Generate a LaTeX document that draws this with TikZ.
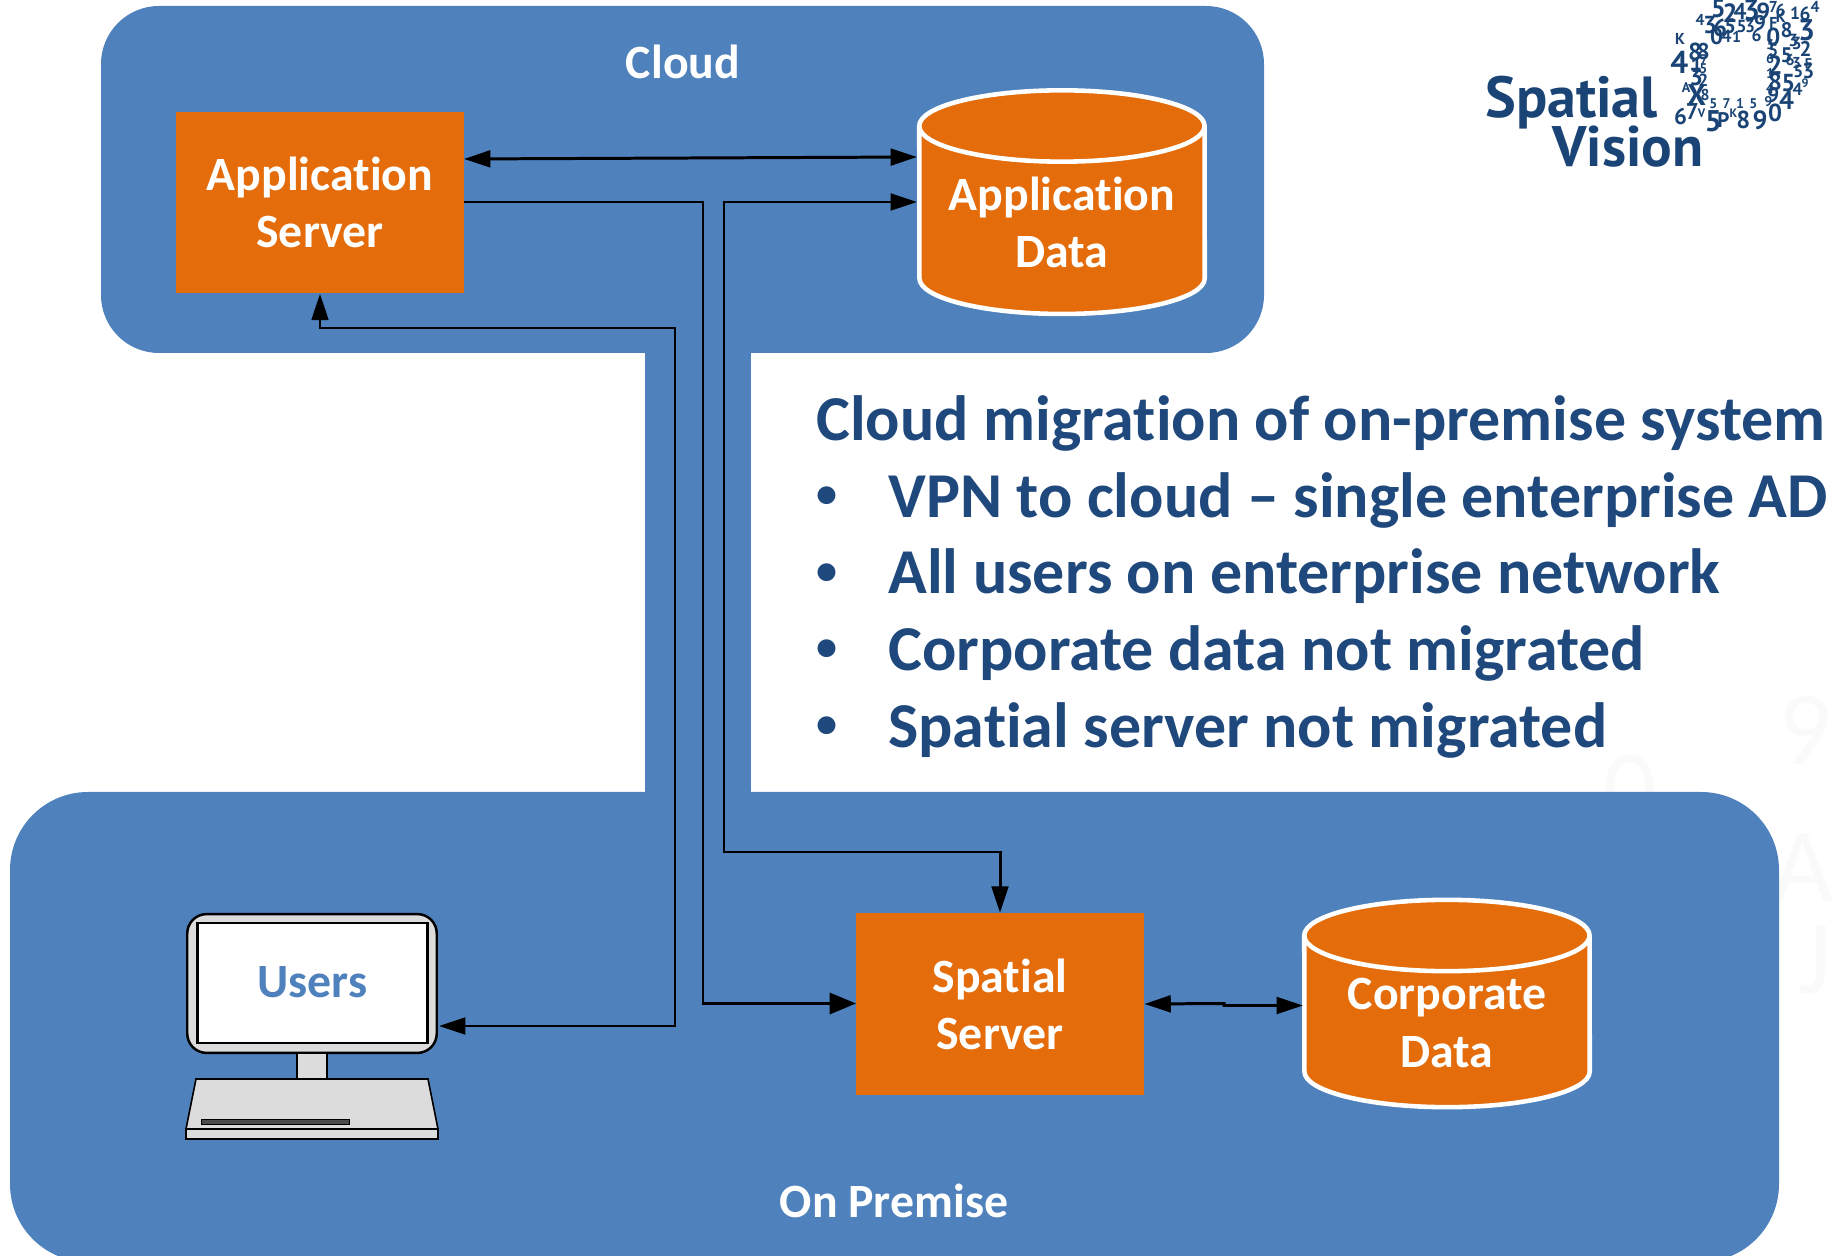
\documentclass[tikz,border=0pt]{standalone}
\usepackage{fontspec}
\setmainfont{Carlito}[Ligatures=NoCommon]
\newfontfamily\logofont{PT Sans}
\usetikzlibrary{arrows.meta}
\definecolor{panelblue}{HTML}{4F81BD}
\definecolor{boxorange}{HTML}{E46C0A}
\definecolor{textblue}{HTML}{1F497D}
\definecolor{logoblue}{HTML}{1A4475}
\definecolor{screengray}{HTML}{DCDCDC}
\newcommand{\bulletmark}{\makebox[41pt][l]{\fontsize{24}{24}\selectfont\raisebox{5.5pt}{•}}}
% drum outline: centre x, upper rim y, lower rim y
\newcommand{\drumbody}[3]{
	\filldraw[drum] (#1-142.75,#2) arc[start angle=180,end angle=0,x radius=81.2pt,y radius=20.3pt] -- (#1+142.75,#3) arc[start angle=0,end angle=-180,x radius=81.2pt,y radius=20.3pt] -- cycle;
	\draw[drum,fill=none] (#1-142.75,#2) arc[start angle=180,end angle=360,x radius=81.2pt,y radius=20.3pt];
}
\tikzset{
	panel/.style={fill=panelblue,draw=none},
	server/.style={fill=boxorange,draw=none,text=white,font=\fontsize{27.2}{32.5}\selectfont\bfseries,align=center,minimum width=164pt,minimum height=103.5pt,inner sep=0pt},
	drum/.style={fill=boxorange,draw=white,line width=2.6pt},
	store/.style={text=white,font=\fontsize{27.2}{32.5}\selectfont\bfseries,align=center,inner sep=0pt},
	caption/.style={text=white,font=\fontsize{27.2}{30}\selectfont\bfseries,inner sep=0pt},
	link/.style={draw=black,line width=1.7pt,-{Triangle[length=15pt,width=9.5pt]}},
	linkboth/.style={link,{Triangle[length=15pt,width=9.5pt]}-{Triangle[length=15pt,width=9.5pt]}},
	part/.style={fill=screengray,draw=black,line width=0.9pt},
	glyph/.style={text=logoblue,inner sep=0pt,font=\logofont},
}
\begin{document}
\begin{tikzpicture}[x=0.02cm,y=-0.02cm]
	\useasboundingbox (0,0) rectangle (1837,1256);
	\clip (0,0) rectangle (1837,1256);

	% faint marks behind the slide
	\begin{scope}[every node/.style={text=black!2,font=\fontsize{60}{60}\selectfont,inner sep=0pt}]
		\node (faintnine) at (1805,730) {9};
		\node (faintzero) at (1630,790) {0};
		\node (fainta) at (1803,868) {A};
		\node (faintj) at (1815,960) {J};
	\end{scope}

	% panels
	\fill[panel,rounded corners=58*0.569pt] (101,6) rectangle (1264,353);
	\fill[panel,rounded corners=78*0.569pt] (10,792) rectangle (1779,1262);
	\fill[panel] (645,340) rectangle (751,800);

	\node[caption] (cloudtitle) at (683,62) {Cloud};
	\node[caption] (premisetitle) at (894,1201) {On Premise};

	% boxes
	\node[server] (appserver) at (320,202.5) {Application\\Server};
	\node[server] (spatialserver) at (1000,1004) {Spatial\\Server};
	\drumbody{1062}{126}{278.3}
	\drumbody{1447}{935.5}{1071.5}
	\node[store] (appdata) at (1062,222) {Application\\Data};
	\node[store] (corpdata) at (1447,1023) {Corporate\\Data};

	% computer
	\node[part,line width=1.4pt,rounded corners=11pt,minimum width=142pt,minimum height=79pt,inner sep=0pt] (monitor) at (312,983.5) {};
	\node[fill=white,draw=black,line width=1.4pt,text=panelblue,font=\fontsize{27.2}{30}\selectfont\bfseries,minimum width=131pt,minimum height=68pt,inner sep=0pt,text depth=1.5pt] (users) at (312.5,983) {Users};
	\draw[part] (297,1053) rectangle (327,1079);
	\draw[part] (196,1079) -- (428,1079) -- (438,1129) -- (186,1129) -- cycle;
	\draw[part] (186,1129) rectangle (438,1139);
	\fill[black!70,draw=black,line width=0.5pt] (201,1119) rectangle (349,1124);

	% connectors
	\coordinate (appleft) at (464,159);
	\coordinate (appright) at (917,157);
	\coordinate (usersport) at (439,1026);
	\coordinate (spatialport) at (856,1003.5);
	\coordinate (corpport) at (1303,1005.5);
	\draw[linkboth] (appleft) -- (appright);
	\draw[link,-{Triangle[length=15pt,width=12pt]}] (464,202) -- (703,202) -- (703,1003.5) -- (spatialport);
	\draw[linkboth] (917,202) -- (724,202) -- (724,852) -- (1000,852) -- (spatialserver.north);
	\draw[linkboth] (appserver.south) -- (320,328) -- (675,328) -- (675,1026) -- (usersport);
	\draw[linkboth] (spatialserver.east) -- (1224,1003.5) -- (1224,1005.5) -- (corpport);

	% text block
	\node[anchor=north west,text=textblue,align=left,inner sep=0pt,font=\fontsize{36.4}{43.7}\selectfont\bfseries] (migration) at (816,395) {Cloud migration of on-premise system\\
		\bulletmark VPN to cloud – single enterprise AD\\
		\bulletmark All users on enterprise network\\
		\bulletmark Corporate data not migrated\\
		\bulletmark Spatial server not migrated};

	% logo
	\node[glyph,anchor=base west,font=\logofont\bfseries\fontsize{33}{33}\selectfont] (logospatial) at (1485,118) {Spatial};
	\node[glyph,anchor=base west,font=\logofont\bfseries\fontsize{32.5}{33}\selectfont] (logovision) at (1552,167) {Vision};
	\foreach \gx/\gy/\gs/\gc [count=\i] in {
		835/24/15/5,870/38/15/2,900/35/13/4,935/30/17/3,970/35/14/9,1000/20/9/7,1022/30/10/6,1065/40/10/1,1095/40/11/6,1125/20/9/4,
		780/60/9/4,810/75/14/3,840/85/14/6,870/80/12/5,905/80/10/5,930/80/10/3,960/70/12/9,1000/70/9/F,1022/50/9/K,1040/90/12/8,1100/90/17/3,
		830/110/13/0,860/110/10/4,890/110/9/1,950/105/10/6,1000/110/14/0,1060/120/10/3,
		720/118/9/K,765/155/14/8,790/155/13/8,1000/150/10/5,1070/130/10/3,1097/148/12/2,1040/165/12/5,
		718/188/18/4,770/195/12/1,768/230/14/3,790/240/10/2,1005/195/15/2,1050/180/9/6,1070/190/9/3,1105/190/8/F,1105/215/12/3,1075/215/10/5,
		738/262/8/A,770/285/17/X,795/285/9/8,1005/245/14/8,1045/250/14/5,1073/268/10/4,1095/250/7/9,1000/285/12/9,1040/302/15/4,
		722/350/13/6,757/335/13/7,785/340/7/V,820/365/17/5,850/360/12/P,880/340/7/K,910/360/14/8,960/360/15/9,1005/340/14/0,
		820/310/8/5,860/310/8/7,900/310/8/1,940/310/8/5,985/305/8/9,
		790/205/8/5,792/180/8/7,990/135/8/3,990/175/8/6,990/222/8/1,990/265/8/4}
		\node[glyph,font=\logofont\bfseries\fontsize{\gs}{\gs}\selectfont] (digit\i) at ({1440+\gx/3},{\gy/3}) {\gc};
\end{tikzpicture}
\end{document}
